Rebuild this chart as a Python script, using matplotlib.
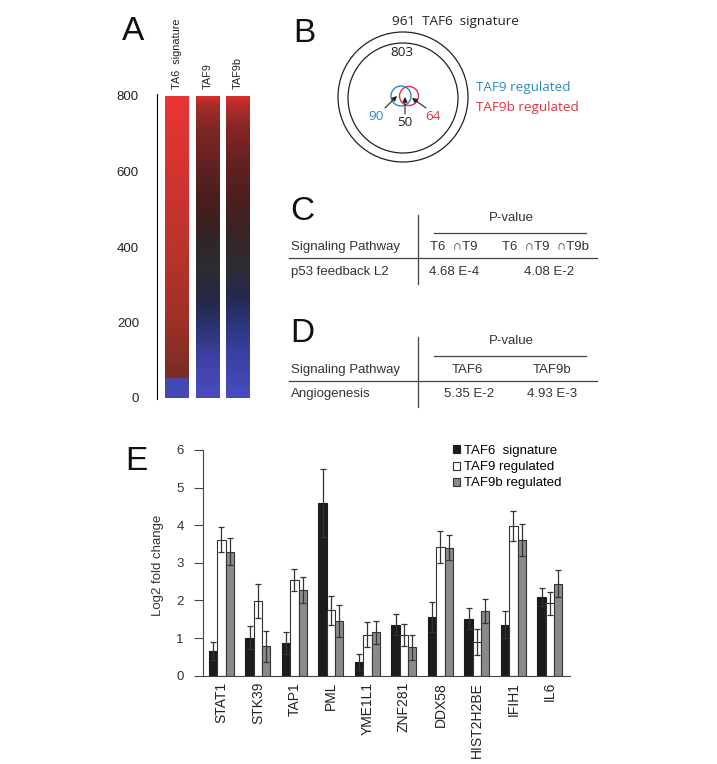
import numpy as np
import matplotlib
matplotlib.use('Agg')
import matplotlib.pyplot as plt
from matplotlib.patches import Circle, Patch

plt.rcParams['font.family'] = ['Liberation Sans', 'DejaVu Sans']

W, H = 717, 764

# ---------------- data ----------------
# Panel A: heat-map columns (gene rank 0..805) with colour stops
heat_columns = ['TA6  signature', 'TAF9', 'TAF9b']
heat_ticks = [0, 200, 400, 600, 800]
heat_top = 805
heat_stops = [
    [(0, (68, 72, 185)), (50, (68, 72, 185)), (54, (120, 44, 36)), (200, (158, 48, 40)),
     (400, (186, 52, 44)), (600, (210, 52, 48)), (805, (236, 52, 54))],
    [(0, (72, 76, 192)), (100, (62, 66, 168)), (190, (42, 52, 115)), (250, (36, 40, 72)),
     (340, (44, 44, 50)), (430, (52, 36, 36)), (520, (72, 30, 30)), (620, (98, 34, 34)),
     (720, (130, 40, 36)), (780, (170, 44, 42)), (805, (228, 48, 48))],
    [(0, (72, 76, 195)), (120, (58, 64, 160)), (200, (44, 52, 120)), (270, (38, 40, 78)),
     (350, (46, 44, 50)), (440, (56, 36, 36)), (540, (80, 30, 30)), (640, (105, 34, 34)),
     (730, (140, 40, 38)), (785, (190, 46, 44)), (805, (226, 48, 48))],
]

# Panel B: counts
venn_total = 961
venn_rest = 803
venn_taf9_only = 90
venn_both = 50
venn_taf9b_only = 64

# Panel C / D tables
c_header = ['T6  \u2229T9', 'T6  \u2229T9  \u2229T9b']
c_row = ['p53 feedback L2', '4.68 E-4', '4.08 E-2']
d_header = ['TAF6', 'TAF9b']
d_row = ['Angiogenesis', '5.35 E-2', '4.93 E-3']

# Panel E: bar chart
genes = ['STAT1', 'STK39', 'TAP1', 'PML', 'YME1L1', 'ZNF281', 'DDX58', 'HIST2H2BE', 'IFIH1', 'IL6']
taf6 = [0.66, 1.01, 0.86, 4.60, 0.36, 1.36, 1.55, 1.52, 1.36, 2.09]
taf6_err = [0.23, 0.31, 0.29, 0.90, 0.22, 0.27, 0.40, 0.28, 0.37, 0.25]
taf9 = [3.62, 1.99, 2.55, 1.74, 1.09, 1.08, 3.42, 0.90, 3.99, 1.92]
taf9_err = [0.33, 0.46, 0.29, 0.38, 0.34, 0.30, 0.43, 0.35, 0.40, 0.31]
taf9b = [3.30, 0.78, 2.27, 1.45, 1.15, 0.75, 3.40, 1.72, 3.61, 2.44]
taf9b_err = [0.35, 0.41, 0.35, 0.42, 0.30, 0.34, 0.33, 0.33, 0.43, 0.36]
legend_labels = ['TAF6  signature', 'TAF9 regulated', 'TAF9b regulated']

# ---------------- figure ----------------
fig = plt.figure(figsize=(W / 100, H / 100), dpi=100)


def fx(x):
    return x / W


def fy(y):
    return 1 - y / H


def rect(l, t, r, b):
    return [fx(l), fy(b), (r - l) / W, (b - t) / H]


# panel letters
for letter, (lx, ly) in zip('ABCDE', [(122, 32), (293, 33), (290, 211), (290, 334), (125, 462)]):
    fig.text(fx(lx), fy(ly), letter, fontsize=24, ha='left', va='center', color='#111111')

# ---------------- Panel A ----------------
axA = fig.add_axes(rect(157, 96, 252, 398))
ys = np.linspace(0, heat_top, 600)
width = 0.77
for i, stops in enumerate(heat_stops):
    pos = [s[0] for s in stops]
    cols = np.array([s[1] for s in stops]) / 255.0
    rgb = np.stack([np.interp(ys, pos, cols[:, k]) for k in range(3)], axis=1)
    img = rgb[:, None, :]
    axA.imshow(img, extent=[i - width / 2, i + width / 2, 0, heat_top], origin='lower',
               aspect='auto', interpolation='bilinear', zorder=2)
    axA.annotate(heat_columns[i], xy=(i, 1), xycoords=('data', 'axes fraction'),
                 xytext=(0, 5), textcoords='offset points', rotation=90,
                 ha='center', va='bottom', fontsize=7.8, color='#222222', annotation_clip=False)
axA.set_xlim(-0.656, 2.46)
axA.set_ylim(0, 800)
for s in ['top', 'right', 'bottom']:
    axA.spines[s].set_visible(False)
axA.spines['left'].set_linewidth(0.8)
axA.spines['left'].set_bounds(-3, heat_top)
axA.set_xticks([])
axA.set_yticks(heat_ticks)
axA.tick_params(axis='y', length=0, pad=13, labelsize=9.5, labelcolor='#222222')
axA.patch.set_visible(False)

# ---------------- overlay for panels B, C, D ----------------
ov = fig.add_axes([0, 0, 1, 1])
ov.set_xlim(0, W)
ov.set_ylim(H, 0)
ov.axis('off')
ov.patch.set_visible(False)

blue = '#2a8ac8'
red = '#e0343e'
bfont = ['Open Sans', 'DejaVu Sans']
ov.add_patch(Circle((403, 97), 65, fill=False, ec='#222222', lw=0.9))
ov.add_patch(Circle((403, 98), 55, fill=False, ec='#222222', lw=0.9))
ov.add_patch(Circle((401, 96), 10, fill=False, ec=blue, lw=1.0))
ov.add_patch(Circle((409, 96), 9.5, fill=False, ec=red, lw=1.0))
ov.text(455, 22, f'{venn_total}  TAF6  signature', ha='center', va='center', fontsize=9.7,
        family=bfont, color='#222222')
ov.text(402, 53, f'{venn_rest}', ha='center', va='center', fontsize=9.7, family=bfont, color='#222222')
ov.text(376, 117, f'{venn_taf9_only}', ha='center', va='center', fontsize=9.7, family=bfont, color=blue)
ov.text(405, 122, f'{venn_both}', ha='center', va='center', fontsize=9.7, family=bfont, color='#222222')
ov.text(433, 117, f'{venn_taf9b_only}', ha='center', va='center', fontsize=9.7, family=bfont, color=red)
ov.text(476, 87, 'TAF9 regulated', ha='left', va='center', fontsize=9.7, family=bfont, color=blue)
ov.text(476, 107, 'TAF9b regulated', ha='left', va='center', fontsize=9.7, family=bfont, color=red)
arrow = dict(arrowstyle='-|>', color='#222222', lw=0.8, mutation_scale=7, shrinkA=0, shrinkB=0)
ov.annotate('', xy=(397, 96), xytext=(385, 108), arrowprops=arrow)
ov.annotate('', xy=(405, 97), xytext=(405, 114), arrowprops=arrow)
ov.annotate('', xy=(412, 98), xytext=(426, 108), arrowprops=arrow)

tfs = 9.5
tc = '#333333'
lc = '#444444'
# Panel C
ov.plot([418, 418], [215, 284], color=lc, lw=0.9)
ov.text(511, 218, 'P-value', ha='center', va='center', fontsize=tfs, color=tc)
ov.plot([434, 586], [233, 233], color=lc, lw=0.9)
ov.text(291, 247, 'Signaling Pathway', ha='left', va='center', fontsize=tfs, color=tc)
ov.text(454, 247, c_header[0], ha='center', va='center', fontsize=tfs, color=tc)
ov.text(545, 247, c_header[1], ha='center', va='center', fontsize=tfs, color=tc)
ov.plot([289, 597], [258, 258], color=lc, lw=0.9)
ov.text(291, 272, c_row[0], ha='left', va='center', fontsize=tfs, color=tc)
ov.text(454, 272, c_row[1], ha='center', va='center', fontsize=tfs, color=tc)
ov.text(549, 272, c_row[2], ha='center', va='center', fontsize=tfs, color=tc)
# Panel D
ov.plot([418, 418], [337, 407], color=lc, lw=0.9)
ov.text(511, 341, 'P-value', ha='center', va='center', fontsize=tfs, color=tc)
ov.plot([434, 586], [356, 356], color=lc, lw=0.9)
ov.text(291, 370, 'Signaling Pathway', ha='left', va='center', fontsize=tfs, color=tc)
ov.text(467, 370, d_header[0], ha='center', va='center', fontsize=tfs, color=tc)
ov.text(552, 370, d_header[1], ha='center', va='center', fontsize=tfs, color=tc)
ov.plot([289, 597], [381, 381], color=lc, lw=0.9)
ov.text(291, 394, d_row[0], ha='left', va='center', fontsize=tfs, color=tc)
ov.text(469, 394, d_row[1], ha='center', va='center', fontsize=tfs, color=tc)
ov.text(552, 394, d_row[2], ha='center', va='center', fontsize=tfs, color=tc)

# ---------------- Panel E ----------------
axE = fig.add_axes(rect(202.7, 450, 570, 675.7))
x = np.arange(len(genes))
bw = 0.228
ek = dict(ecolor='#333333', elinewidth=0.9, capsize=2, capthick=0.9)
axE.bar(x - bw, taf6, bw, yerr=taf6_err, color='#1c1c1c', edgecolor='#1c1c1c', lw=0.8,
        error_kw=ek, label=legend_labels[0])
axE.bar(x, taf9, bw, yerr=taf9_err, color='white', edgecolor='#333333', lw=0.8,
        error_kw=ek, label=legend_labels[1])
axE.bar(x + bw, taf9b, bw, yerr=taf9b_err, color='#8a8a8a', edgecolor='#333333', lw=0.8,
        error_kw=ek, label=legend_labels[2])
axE.set_xlim(-0.515, 9.553)
axE.set_ylim(0, 6)
axE.set_yticks(range(7))
axE.set_xticks(x)
axE.set_xticklabels(genes, rotation=90, fontsize=10, color='#222222')
axE.tick_params(axis='x', length=0, pad=4.5)
axE.tick_params(axis='y', length=6.5, width=0.8, pad=7, labelsize=9.5, labelcolor='#333333', color='#444444')
for s in ['top', 'right']:
    axE.spines[s].set_visible(False)
for s in ['left', 'bottom']:
    axE.spines[s].set_linewidth(0.8)
    axE.spines[s].set_color('#444444')
axE.set_ylabel('Log2 fold change', fontsize=9.5, color='#333333')
axE.yaxis.set_label_coords((164 - 202.7) / 367.3, 0.49)
handles = [Patch(facecolor='#1c1c1c', edgecolor='#1c1c1c', lw=0.8),
           Patch(facecolor='white', edgecolor='#333333', lw=0.8),
           Patch(facecolor='#8a8a8a', edgecolor='#333333', lw=0.8)]
fig.legend(handles, legend_labels, loc='upper left', bbox_to_anchor=(fx(453), fy(445)),
           frameon=False, fontsize=9.5, handlelength=0.55, handleheight=0.55,
           handletextpad=0.3, labelspacing=0.32, borderpad=0, borderaxespad=0)

fig.savefig('out.png', dpi=100)
